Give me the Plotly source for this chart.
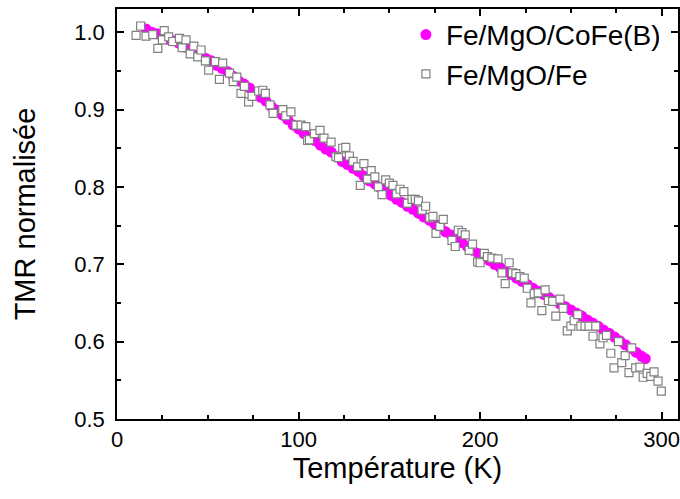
import plotly.graph_objects as go

# Fe/MgO/CoFe(B): temperature (K) and normalised TMR
cofeb_T = [16, 19, 22, 25, 28, 31, 34, 37, 40, 43, 46, 49, 52, 55, 58, 61, 64, 67, 70, 73,
           76, 79, 82, 85, 88, 91, 94, 97, 100, 103, 106, 109, 112, 115, 118, 121, 124, 127, 130, 133,
           136, 139, 142, 145, 148, 151, 154, 157, 160, 163, 166, 169, 172, 175, 178, 181, 184, 187, 190, 193,
           196, 199, 202, 205, 208, 211, 214, 217, 220, 223, 226, 229, 232, 235, 238, 241, 244, 247, 250, 253,
           256, 259, 262, 265, 268, 271, 274, 277, 280, 283, 286, 289, 291]
cofeb_tmr = [1.004, 1.000, 0.998, 0.995, 0.991, 0.989, 0.986, 0.981, 0.978, 0.975, 0.970, 0.966, 0.963, 0.957, 0.953, 0.949, 0.943, 0.937, 0.933, 0.928,
             0.921, 0.916, 0.911, 0.904, 0.899, 0.893, 0.887, 0.880, 0.875, 0.869, 0.864, 0.860, 0.854, 0.849, 0.845, 0.839, 0.833, 0.829, 0.824, 0.820,
             0.814, 0.808, 0.804, 0.799, 0.795, 0.789, 0.784, 0.780, 0.775, 0.771, 0.766, 0.761, 0.757, 0.752, 0.748, 0.742, 0.738, 0.733, 0.728, 0.723,
             0.718, 0.714, 0.709, 0.705, 0.700, 0.696, 0.691, 0.687, 0.682, 0.678, 0.674, 0.669, 0.665, 0.661, 0.657, 0.653, 0.649, 0.645, 0.641, 0.637,
             0.633, 0.628, 0.624, 0.620, 0.615, 0.611, 0.606, 0.601, 0.596, 0.591, 0.586, 0.581, 0.578]

# Fe/MgO/Fe: temperature (K) and normalised TMR
fe_T = [10.5, 13, 16, 19.7, 22.5, 25, 26, 28.5, 30.7, 34.4, 35.9, 38, 40.3, 42.3, 44.5, 46.3, 48.7, 50.5, 54.2, 56.4,
        58.2, 62, 64, 66, 68.3, 70.2, 72.5, 74.4, 78, 80.3, 81.7, 84.3, 86, 91.3, 93, 95.8, 98.6, 101.4, 104, 105,
        106, 108.7, 111.8, 114, 117.9, 120.6, 122, 124.3, 126, 128, 130, 132.5, 134, 136, 138, 140, 142, 144, 146, 148,
        150, 152, 154, 155.9, 158, 160, 162.5, 164.3, 166, 168, 170, 172.3, 174, 175.7, 177.9, 179.7, 184.5, 186.3, 188, 190,
        191.8, 194, 195.8, 198.6, 200, 202.3, 204, 206.5, 209.8, 212, 213.8, 216, 217.8, 219.7, 221.9, 224.3, 226, 228, 229.8, 232,
        234, 235.8, 237.6, 240, 241.7, 244, 245.7, 248, 250, 251.8, 253.8, 255.5, 257.8, 260, 262.2, 263.7, 266, 267.7, 269.6, 272,
        273.8, 276.2, 278, 279.9, 282, 283.5, 285.7, 288, 289.8, 292, 294, 295.8, 298, 299.8]
fe_tmr = [0.996, 1.008, 0.995, 0.997, 0.979, 0.990, 1.002, 0.994, 0.988, 0.992, 0.980, 0.990, 0.972, 0.982, 0.968, 0.977, 0.963, 0.951, 0.962, 0.939,
          0.960, 0.947, 0.936, 0.942, 0.921, 0.930, 0.910, 0.917, 0.924, 0.925, 0.921, 0.906, 0.895, 0.900, 0.892, 0.897, 0.880, 0.880, 0.878, 0.860,
          0.861, 0.869, 0.873, 0.863, 0.858, 0.839, 0.838, 0.850, 0.851, 0.840, 0.833, 0.826, 0.802, 0.830, 0.810, 0.821, 0.813, 0.800, 0.790, 0.809,
          0.805, 0.802, 0.791, 0.797, 0.794, 0.779, 0.784, 0.784, 0.782, 0.770, 0.775, 0.760, 0.762, 0.740, 0.749, 0.758, 0.731, 0.723, 0.744, 0.741,
          0.738, 0.718, 0.726, 0.703, 0.702, 0.714, 0.710, 0.708, 0.707, 0.689, 0.675, 0.702, 0.689, 0.688, 0.684, 0.682, 0.669, 0.650, 0.662, 0.663,
          0.640, 0.667, 0.653, 0.652, 0.633, 0.655, 0.643, 0.614, 0.620, 0.627, 0.635, 0.620, 0.620, 0.620, 0.607, 0.620, 0.597, 0.605, 0.608, 0.585,
          0.566, 0.600, 0.573, 0.582, 0.560, 0.592, 0.566, 0.567, 0.554, 0.559, 0.555, 0.561, 0.549, 0.536]

x_title = "Température (K)"
y_title = "TMR normalisée"

FONT = "Arial, 'Liberation Sans', sans-serif"

fig = go.Figure()
fig.add_trace(go.Scatter(
    x=cofeb_T, y=cofeb_tmr, mode="markers", name="Fe/MgO/CoFe(B)",
    marker=dict(symbol="circle", size=11, color="#FF00FF", line=dict(width=0)),
))
fig.add_trace(go.Scatter(
    x=fe_T, y=fe_tmr, mode="markers", name="Fe/MgO/Fe",
    marker=dict(symbol="square", size=8, color="white", line=dict(width=1.2, color="#808080")),
))

axis_common = dict(
    showline=True, linecolor="black", linewidth=1.5, mirror="allticks",
    ticks="inside", ticklen=7, tickwidth=1.5, tickcolor="black",
    showgrid=False, zeroline=False, automargin=False,
    ticklabeloverflow="allow",
    tickfont=dict(family=FONT, size=22, color="black"),
)

fig.update_xaxes(
    range=[0, 309], tick0=0, dtick=100,
    minor=dict(ticks="inside", ticklen=4, tickwidth=1.5, tickcolor="black", dtick=25, showgrid=False),
    title=dict(text=x_title, font=dict(family=FONT, size=29, color="black"), standoff=0),
    **axis_common,
)
fig.update_yaxes(
    range=[0.5, 1.03], tick0=0.5, dtick=0.1, tickformat=".1f",
    ticklabelstandoff=6,
    minor=dict(ticks="inside", ticklen=4, tickwidth=1.5, tickcolor="black", dtick=0.05, showgrid=False),
    title=dict(text=y_title, font=dict(family=FONT, size=29, color="black"), standoff=30),
    **axis_common,
)

fig.update_layout(
    width=680, height=499,
    margin=dict(l=117, r=2, t=9, b=80),
    paper_bgcolor="white", plot_bgcolor="white",
    showlegend=True,
    legend=dict(
        x=0.515, y=0.998, xanchor="left", yanchor="top",
        bgcolor="rgba(0,0,0,0)", borderwidth=0,
        font=dict(family=FONT, size=28, color="black"),
        itemwidth=30, tracegroupgap=0,
    ),
)

fig.write_html(
    "out.html",
    config={"responsive": False, "displayModeBar": False},
    post_script="document.body.style.margin='0';document.body.style.overflow='hidden';",
)
